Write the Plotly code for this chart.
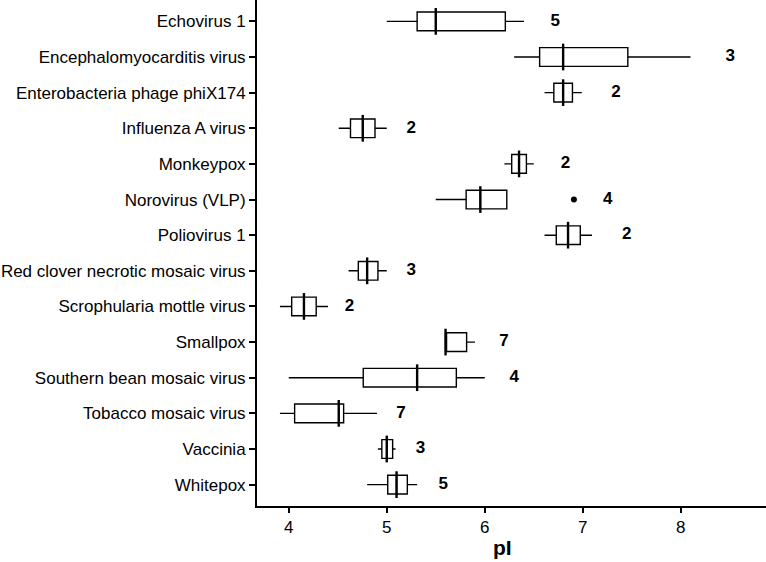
import plotly.graph_objects as go

viruses = ["Echovirus 1", "Encephalomyocarditis virus", "Enterobacteria phage phiX174",
           "Influenza A virus", "Monkeypox", "Norovirus (VLP)", "Poliovirus 1",
           "Red clover necrotic mosaic virus", "Scrophularia mottle virus", "Smallpox",
           "Southern bean mosaic virus", "Tobacco mosaic virus", "Vaccinia", "Whitepox"]
lower = [5.00, 6.30, 6.61, 4.51, 6.20, 5.50, 6.61, 4.61, 3.91, 5.60, 4.00, 3.91, 4.91, 4.80]
q1 = [5.31, 6.56, 6.705, 4.63, 6.275, 5.81, 6.73, 4.71, 4.03, 5.60, 4.76, 4.06, 4.95, 5.01]
median = [5.50, 6.80, 6.80, 4.755, 6.35, 5.955, 6.85, 4.80, 4.155, 5.60, 5.31, 4.51, 5.00, 5.10]
q3 = [6.21, 7.46, 6.895, 4.88, 6.425, 6.225, 6.975, 4.91, 4.28, 5.815, 5.71, 4.56, 5.06, 5.21]
upper = [6.40, 8.10, 6.99, 5.00, 6.50, 6.225, 7.095, 5.00, 4.40, 5.90, 6.00, 4.90, 5.09, 5.31]
counts = [5, 3, 2, 2, 2, 4, 2, 3, 2, 7, 4, 7, 3, 5]
outlier_virus = ["Norovirus (VLP)"]
outlier_value = [6.91]

pos = list(range(len(viruses)))
fig = go.Figure()

fig.add_trace(go.Box(
    y=pos, q1=q1, median=median, q3=q3, lowerfence=lower, upperfence=upper,
    orientation="h", fillcolor="white", line=dict(color="black", width=1.4),
    whiskerwidth=0, boxpoints=False, showlegend=False, hoverinfo="skip"))

# thicker median lines
mx, my = [], []
for p, m in zip(pos, median):
    mx += [m, m, None]
    my += [p - 0.375, p + 0.375, None]
fig.add_trace(go.Scatter(x=mx, y=my, mode="lines", line=dict(color="black", width=2.4),
                         showlegend=False, hoverinfo="skip"))

# outliers
fig.add_trace(go.Scatter(x=outlier_value, y=[viruses.index(v) for v in outlier_virus],
                         mode="markers", marker=dict(color="black", size=6),
                         showlegend=False, hoverinfo="skip"))

# count labels at max * 1.05
maxv = list(upper)
for v, o in zip(outlier_virus, outlier_value):
    i = viruses.index(v)
    maxv[i] = max(maxv[i], o)
fig.add_trace(go.Scatter(x=[m * 1.05 for m in maxv], y=pos, mode="text",
                         text=[str(c) for c in counts],
                         textfont=dict(family="Liberation Sans", size=17, color="black", weight="bold"),
                         showlegend=False, hoverinfo="skip"))

fig.update_layout(
    width=766, height=562,
    margin=dict(l=257, r=0, t=0, b=56, autoexpand=False),
    plot_bgcolor="white", paper_bgcolor="white",
    font=dict(family="Liberation Sans", size=17, color="black"),
    boxgap=0.25,
    xaxis=dict(range=[3.676, 8.87], tickvals=[4, 5, 6, 7, 8], showgrid=False, zeroline=False,
               showline=True, linecolor="black", linewidth=2, ticks="outside", ticklen=5,
               tickwidth=1.5, tickcolor="black", tickfont=dict(size=17, color="black"),
               automargin=False),
    yaxis=dict(range=[len(viruses) - 0.4, -0.6], tickvals=pos, ticktext=viruses,
               showgrid=False, zeroline=False, showline=True, linecolor="black", linewidth=2,
               ticks="outside", ticklen=6, tickwidth=1.5, tickcolor="black",
               tickfont=dict(size=17, color="black"), automargin=False),
    annotations=[dict(text="pI", x=0.483, xref="paper", y=0, yref="paper", yshift=-41,
                      yanchor="middle", showarrow=False,
                      font=dict(family="Liberation Sans", size=21, color="black", weight="bold"))],
)

fig.write_html("out.html", config={"displayModeBar": False},
               post_script="document.body.style.margin='0';document.body.style.overflow='hidden';")
